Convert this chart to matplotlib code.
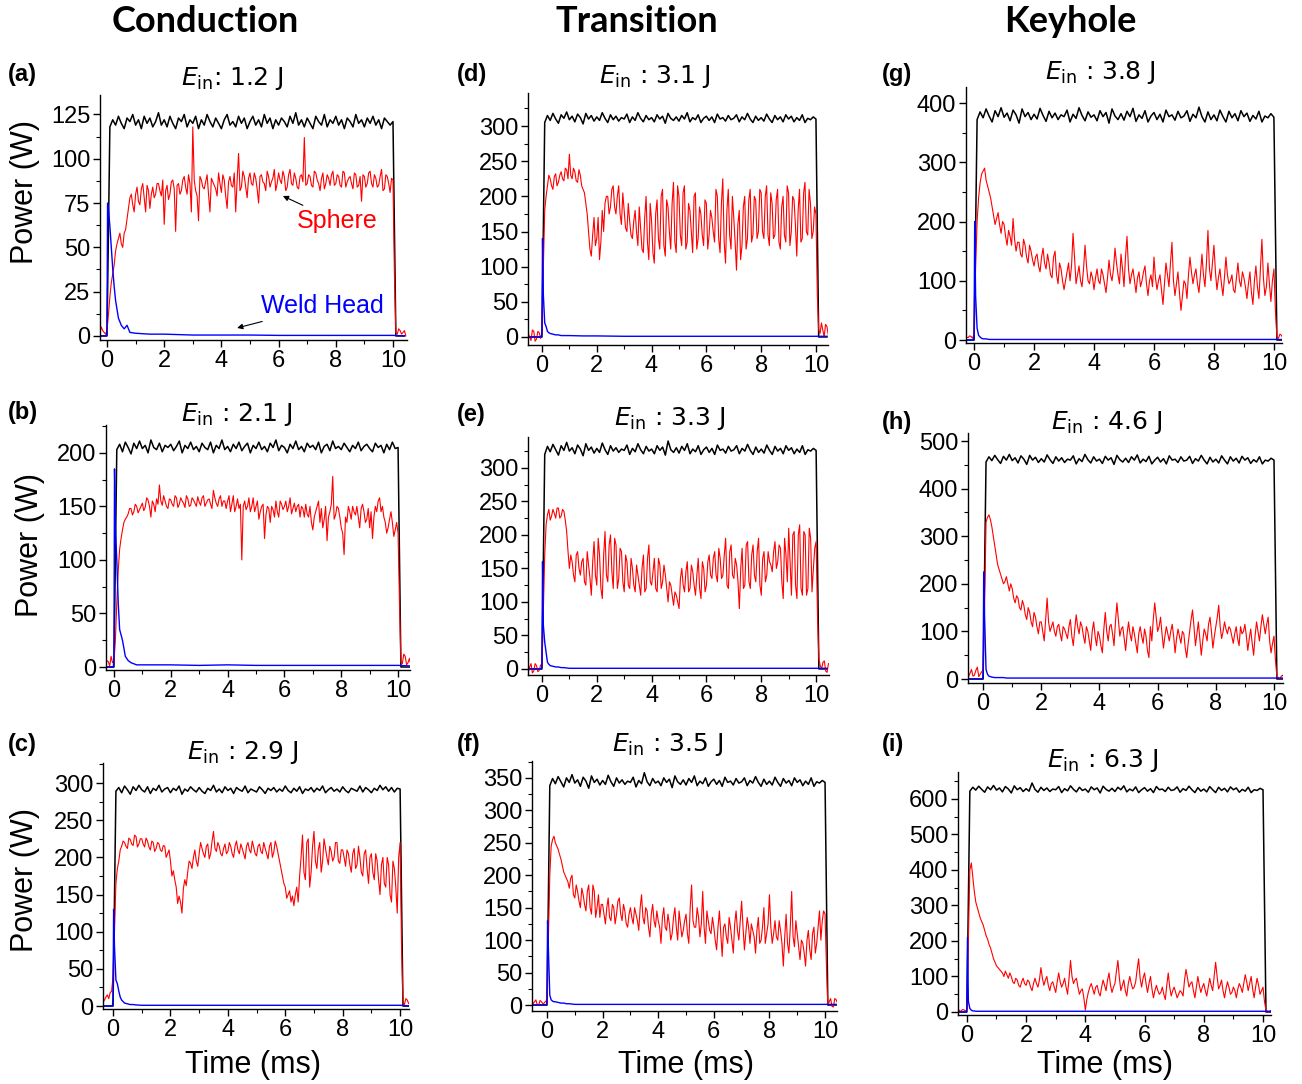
import numpy as np
import matplotlib.pyplot as plt
from matplotlib.ticker import MultipleLocator

plt.rcParams['font.family'] = ['Liberation Sans', 'DejaVu Sans']
plt.rcParams['mathtext.fontset'] = 'dejavusans'

# sampled time axis of the traces (ms): -0.5 ... 10.4 in 0.1 ms steps
t = np.round(np.arange(-5, 105) * 0.1, 2)
# sphere traces are also read half way between those samples
t_mid = np.round(t + 0.05, 2)
# finer time axis for the weld head spike
t_head = [-0.5, -0.02, 0.0, 0.02, 0.05, 0.1, 0.15, 0.2, 0.25, 0.3, 0.4, 0.5, 0.6, 0.7,
          0.8, 1.0, 1.5, 2.0, 3.0, 4.0, 5.0, 6.0, 7.0, 8.0, 9.0, 10.0, 10.4]

energy = ["1.2", "2.1", "2.9", "3.1", "3.3", "3.5", "3.8", "4.6", "6.3"]
letters = ["a", "b", "c", "d", "e", "f", "g", "h", "i"]
modes = ["Conduction", "Transition", "Keyhole"]

# ---- (a) 1.2 J
laser_a = [0, 0, 0, 0, 0,
           0, 118, 122, 119, 124, 120, 117, 123, 121, 125,
           119, 122, 117, 124, 120, 123, 118, 121, 126, 119,
           122, 118, 124, 120, 117, 123, 121, 125, 118, 122,
           120, 124, 117, 122, 119, 125, 121, 118, 123, 120,
           117, 122, 125, 119, 121, 118, 124, 120, 123, 117,
           121, 124, 119, 122, 118, 125, 120, 123, 117, 122,
           119, 123, 121, 118, 124, 120, 126, 119, 122, 118,
           123, 120, 117, 124, 121, 119, 125, 118, 122, 120,
           124, 119, 122, 117, 123, 121, 118, 125, 120, 122,
           118, 123, 120, 124, 119, 122, 117, 123, 121, 119,
           121, 0, 0, 0, 0]
sphere_a = [2, 1, 3, 5, 2,
            3, 22, 35, 48, 55, 52, 58, 66, 78, 74,
            80, 76, 83, 78, 85, 72, 84, 80, 86, 79,
            63, 85, 80, 88, 59, 86, 82, 90, 80, 86,
            118, 82, 65, 88, 83, 91, 70, 87, 83, 92,
            81, 88, 72, 90, 84, 70, 103, 84, 90, 78,
            92, 85, 89, 75, 91, 86, 93, 84, 89, 82,
            92, 86, 90, 84, 94, 85, 89, 83, 91, 112,
            86, 90, 84, 92, 86, 89, 83, 91, 85, 93,
            86, 90, 84, 92, 87, 90, 83, 91, 85, 76,
            90, 86, 93, 84, 89, 85, 94, 83, 90, 81,
            88, 2, 4, 1, 3]
sphere_a_mid = [4, 0, 2, 3, 1,
                12, 30, 40, 52, 58, 50, 60, 72, 80, 70,
                84, 74, 86, 70, 82, 80, 78, 86, 82, 88,
                82, 77, 87, 83, 85, 80, 88, 84, 91, 70,
                88, 79, 90, 84, 87, 80, 89, 85, 79, 86,
                91, 79, 87, 85, 92, 88, 82, 93, 84, 89,
                86, 92, 83, 90, 87, 82, 90, 87, 94, 86,
                88, 93, 82, 91, 86, 92, 84, 90, 87, 85,
                91, 85, 93, 88, 82, 92, 86, 89, 91, 85,
                91, 85, 93, 84, 89, 86, 92, 84, 90, 91,
                84, 92, 86, 91, 84, 90, 82, 91, 86, 89,
                35, 1, 3, 2, 0]
head_a = [0, 0, 5, 75, 72, 62, 50, 38, 28, 20, 10, 6, 4, 6, 2, 1.5, 1, 1, 0.5, 0.5,
          0.5, 0.3, 0.3, 0.3, 0.3, 0.3, 0]

# ---- (b) 2.1 J
laser_b = [0, 0, 0, 0, 0,
           0, 203, 208, 201, 210, 205, 199, 209, 204, 211,
           204, 207, 200, 212, 205, 203, 209, 201, 207, 205,
           208, 202, 206, 211, 200, 207, 204, 210, 203, 206,
           201, 209, 205, 203, 210, 200, 207, 204, 212, 203,
           206, 201, 208, 204, 210, 202, 206, 209, 200, 207,
           204, 210, 203, 206, 201, 209, 205, 212, 202, 207,
           205, 200, 208, 204, 211, 203, 206, 201, 209, 205,
           207, 203, 210, 200, 206, 208, 202, 211, 204, 206,
           203, 209, 205, 201, 207, 204, 210, 202, 206, 208,
           204, 201, 209, 205, 207, 200, 208, 203, 210, 204,
           205, 0, 0, 0, 0]
sphere_b = [3, 8, 2, 5, 10,
            5, 60, 110, 128, 138, 143, 148, 145, 150, 147,
            153, 149, 156, 140, 152, 157, 170, 151, 155, 148,
            156, 150, 158, 152, 155, 149, 157, 151, 156, 150,
            154, 158, 150, 156, 152, 165, 153, 157, 150, 155,
            155, 145, 160, 150, 148, 100, 155, 150, 145, 158,
            150, 138, 150, 120, 150, 135, 147, 155, 140, 152,
            150, 145, 158, 148, 145, 152, 150, 140, 143, 150,
            128, 145, 155, 148, 138, 118, 145, 178, 142, 148,
            130, 105, 135, 145, 150, 142, 140, 148, 145, 138,
            130, 120, 150, 155, 145, 140, 125, 138, 135, 128,
            125, 5, 12, 2, 8]
sphere_b_mid = [10, 3, 6, 1, 4,
                25, 90, 120, 135, 140, 148, 142, 152, 144, 150,
                146, 158, 150, 155, 145, 152, 155, 160, 150, 157,
                152, 160, 149, 158, 153, 160, 150, 158, 153, 159,
                151, 160, 153, 157, 148, 158, 150, 160, 155, 148,
                160, 152, 145, 157, 152, 150, 147, 158, 150, 145,
                155, 145, 152, 142, 148, 150, 140, 145, 155, 147,
                155, 150, 143, 153, 150, 140, 148, 152, 140, 135,
                140, 150, 135, 130, 150, 140, 152, 138, 150, 140,
                125, 140, 150, 138, 145, 150, 130, 152, 135, 148,
                145, 140, 145, 158, 150, 135, 130, 145, 122, 135,
                60, 3, 10, 4, 2]
head_b = [0, 0, 10, 185, 130, 100, 60, 35, 30, 25, 10, 6, 4, 3, 2, 2, 2, 2, 1.5, 2,
          1.5, 1.5, 1.5, 1.5, 1.5, 1.5, 1]

# ---- (c) 2.9 J
laser_c = [0, 0, 0, 0, 0,
           0, 289, 294, 287, 296, 291, 285, 295, 290, 297,
           291, 288, 295, 286, 293, 290, 297, 288, 292, 294,
           287, 293, 290, 296, 285, 292, 289, 295, 291, 288,
           294, 289, 286, 293, 290, 297, 288, 292, 287, 295,
           290, 293, 286, 294, 291, 289, 296, 287, 292, 290,
           288, 295, 291, 286, 293, 290, 294, 288, 292, 289,
           296, 290, 287, 293, 289, 295, 286, 292, 290, 294,
           288, 293, 290, 296, 287, 291, 294, 289, 292, 288,
           295, 290, 287, 293, 291, 289, 296, 288, 294, 291,
           287, 293, 290, 297, 291, 295, 289, 294, 288, 293,
           292, 0, 0, 0, 0]
sphere_c = [5, 10, 8, 15, 18,
            40, 165, 195, 215, 220, 212, 224, 216, 228, 218,
            225, 214, 222, 210, 220, 212, 218, 208, 215, 205,
            195, 182, 160, 148, 125, 170, 180, 192, 200, 195,
            205, 212, 200, 218, 205, 235, 208, 215, 202, 218,
            208, 215, 200, 222, 205, 212, 198, 220, 206, 214,
            202, 218, 205, 212, 198, 220, 207, 215, 195, 175,
            160, 150, 140, 135, 160, 175, 230, 170, 225, 180,
            235, 185, 220, 195, 212, 190, 208, 200, 220, 192,
            210, 188, 205, 180, 212, 190, 200, 175, 210, 165,
            205, 170, 195, 150, 200, 160, 190, 140, 185, 125,
            220, 5, 10, 3, 12]
sphere_c_mid = [8, 5, 12, 10, 20,
                100, 185, 210, 222, 215, 226, 218, 230, 214, 225,
                218, 226, 214, 222, 208, 220, 210, 216, 200, 210,
                175, 170, 138, 140, 158, 162, 195, 185, 210, 188,
                220, 205, 215, 198, 222, 212, 220, 205, 212, 205,
                220, 205, 215, 210, 218, 205, 215, 210, 222, 205,
                215, 208, 220, 205, 215, 200, 222, 205, 185, 165,
                145, 155, 148, 150, 140, 200, 180, 220, 160, 215,
                195, 210, 180, 225, 200, 215, 195, 220, 195, 210,
                200, 210, 190, 205, 185, 215, 180, 205, 185, 200,
                180, 205, 170, 190, 165, 200, 150, 195, 160, 200,
                80, 2, 8, 5, 10]
head_c = [0, 0, 10, 130, 80, 35, 30, 20, 12, 8, 4, 3, 2, 2, 1.5, 1, 1, 1, 1, 1,
          1, 1, 1, 1, 1, 1, 0]

# ---- (d) 3.1 J
laser_d = [0, 0, 0, 0, 0,
           0, 305, 315, 308, 318, 310, 304, 316, 311, 320,
           309, 314, 306, 317, 312, 303, 318, 310, 315, 307,
           313, 308, 319, 311, 305, 316, 309, 314, 307, 312,
           310, 317, 305, 313, 308, 319, 311, 306, 315, 309,
           312, 306, 316, 310, 314, 304, 318, 311, 308, 313,
           307, 315, 310, 319, 306, 312, 309, 316, 305, 311,
           314, 308, 313, 305, 317, 310, 312, 307, 315, 309,
           311, 316, 306, 313, 309, 318, 310, 305, 314, 308,
           312, 307, 317, 310, 305, 315, 309, 313, 306, 316,
           310, 314, 306, 312, 308, 316, 305, 311, 309, 313,
           310, 0, 0, 0, 0]
sphere_d = [5, -5, 8, -3, 6,
            5, 180, 215, 225, 210, 232, 220, 235, 222, 238,
            260, 225, 235, 220, 230, 210, 190, 150, 115, 170,
            140, 110, 180, 190, 200, 185, 215, 175, 215, 160,
            180, 150, 165, 140, 180, 130, 155, 120, 200, 110,
            165, 105, 195, 125, 210, 115, 185, 125, 220, 120,
            200, 130, 215, 135, 180, 120, 205, 140, 175, 130,
            190, 145, 170, 135, 200, 120, 225, 105, 210, 125,
            170, 95, 180, 130, 200, 140, 210, 145, 195, 150,
            205, 140, 215, 130, 190, 145, 210, 125, 200, 135,
            205, 150, 195, 115, 210, 140, 220, 145, 190, 150,
            175, 10, 20, 0, 15]
sphere_d_mid = [0, 10, -6, 8, -2,
                100, 200, 230, 215, 228, 215, 230, 225, 240, 225,
                230, 240, 222, 238, 215, 205, 175, 125, 145, 130,
                170, 135, 150, 200, 175, 210, 185, 200, 175, 205,
                155, 190, 145, 165, 150, 185, 125, 170, 135, 190,
                120, 175, 140, 200, 130, 195, 150, 190, 135, 215,
                145, 205, 125, 190, 150, 200, 125, 185, 145, 195,
                125, 180, 150, 210, 140, 190, 135, 180, 145, 200,
                135, 160, 110, 185, 125, 195, 135, 200, 140, 210,
                150, 200, 145, 205, 140, 195, 135, 185, 145, 215,
                130, 200, 160, 180, 135, 205, 150, 210, 140, 185,
                60, 5, 10, 18, 3]
head_d = [0, 0, 10, 140, 60, 20, 15, 8, 6, 5, 4, 3, 3, 2, 2, 2, 1.5, 1.5, 1, 1,
          1, 1, 1, 1, 1, 1, 1]

# ---- (e) 3.3 J
laser_e = [0, 0, 0, 0, 0,
           0, 320, 332, 324, 335, 327, 319, 333, 326, 338,
           325, 330, 321, 334, 328, 318, 336, 326, 331, 322,
           329, 323, 337, 327, 320, 333, 325, 330, 323, 328,
           326, 334, 320, 329, 324, 336, 327, 321, 332, 325,
           328, 321, 333, 326, 331, 319, 340, 327, 323, 330,
           322, 332, 326, 336, 321, 328, 324, 333, 320, 327,
           331, 323, 329, 320, 334, 326, 328, 322, 332, 325,
           327, 333, 321, 329, 325, 335, 326, 320, 331, 323,
           328, 322, 334, 326, 320, 332, 325, 329, 321, 333,
           326, 330, 321, 328, 323, 333, 320, 327, 325, 329,
           326, 0, 0, 0, 0]
sphere_e = [-5, 8, -3, 5, -2,
            5, 170, 230, 222, 238, 225, 240, 228, 235, 205,
            150, 160, 130, 175, 140, 165, 125, 155, 110, 190,
            125, 170, 105, 205, 130, 200, 120, 185, 135, 175,
            115, 160, 120, 150, 115, 140, 110, 170, 120, 185,
            125, 165, 115, 155, 130, 140, 100, 125, 95, 110,
            90, 150, 115, 160, 120, 145, 110, 165, 105, 150,
            125, 170, 135, 175, 130, 165, 140, 195, 120, 185,
            135, 155, 90, 180, 125, 190, 120, 185, 130, 195,
            110, 175, 140, 160, 145, 190, 160, 180, 105, 170,
            210, 110, 205, 105, 215, 110, 200, 120, 195, 150,
            190, 15, 0, 12, -5]
sphere_e_mid = [3, -6, 8, -4, 6,
                90, 215, 238, 228, 232, 240, 225, 238, 222, 175,
                170, 140, 170, 150, 160, 130, 175, 135, 160, 140,
                195, 120, 170, 140, 185, 145, 195, 120, 180, 130,
                170, 125, 165, 125, 155, 125, 150, 115, 165, 130,
                145, 120, 165, 120, 155, 120, 130, 110, 115, 100,
                135, 125, 145, 115, 155, 125, 140, 120, 160, 115,
                160, 140, 165, 140, 180, 135, 170, 125, 175, 140,
                165, 130, 150, 120, 185, 130, 170, 140, 175, 125,
                165, 130, 175, 155, 175, 150, 185, 130, 195, 130,
                160, 200, 125, 200, 120, 205, 110, 210, 115, 180,
                80, 5, 10, -3, 8]
head_e = [0, 0, 10, 160, 65, 40, 25, 10, 7, 5, 4, 3, 3, 2, 2, 1, 1, 1, 1, 1,
          1, 1, 1, 1, 1, 1, 1]

# ---- (f) 3.5 J
laser_f = [0, 0, 0, 0, 0,
           0, 338, 349, 341, 352, 344, 336, 350, 343, 355,
           342, 347, 337, 351, 345, 334, 353, 343, 348, 339,
           346, 340, 354, 344, 337, 350, 342, 347, 340, 345,
           343, 351, 336, 346, 341, 358, 344, 338, 349, 342,
           345, 338, 350, 343, 348, 335, 353, 344, 340, 347,
           339, 349, 343, 353, 338, 345, 341, 350, 337, 344,
           348, 340, 346, 337, 351, 343, 345, 339, 349, 342,
           344, 350, 338, 346, 342, 352, 343, 337, 348, 340,
           345, 339, 351, 343, 337, 349, 342, 346, 338, 350,
           343, 347, 338, 345, 340, 350, 337, 344, 342, 346,
           343, 0, 0, 0, 0]
sphere_f = [2, 8, 0, 5, 3,
            5, 200, 255, 250, 240, 225, 205, 195, 180, 200,
            165, 175, 150, 170, 145, 185, 140, 175, 150, 135,
            155, 125, 165, 130, 150, 140, 165, 130, 145, 120,
            150, 125, 140, 115, 170, 125, 145, 105, 155, 120,
            130, 95, 150, 115, 125, 110, 150, 100, 125, 115,
            140, 95, 185, 120, 150, 105, 175, 95, 130, 110,
            120, 85, 145, 75, 125, 95, 120, 80, 145, 100,
            160, 85, 135, 95, 115, 80, 135, 100, 150, 110,
            170, 95, 130, 100, 115, 60, 140, 80, 175, 90,
            110, 70, 95, 60, 115, 70, 120, 95, 145, 130,
            140, 0, 10, -3, 8]
sphere_f_mid = [5, 0, 7, 2, 6,
                100, 245, 260, 245, 232, 215, 200, 190, 195, 170,
                185, 160, 180, 155, 175, 150, 185, 135, 170, 155,
                140, 150, 135, 155, 125, 160, 140, 155, 125, 140,
                135, 150, 130, 150, 135, 150, 120, 140, 130, 145,
                120, 135, 120, 140, 100, 135, 120, 145, 105, 130,
                110, 150, 130, 120, 135, 125, 120, 145, 115, 135,
                100, 120, 110, 120, 105, 135, 100, 125, 115, 130,
                120, 110, 120, 125, 105, 115, 95, 120, 95, 125,
                120, 110, 105, 130, 95, 105, 95, 120, 105, 130,
                90, 100, 80, 100, 85, 110, 80, 120, 100, 145,
                60, 5, -2, 10, 3]
head_f = [0, 0, 10, 130, 85, 15, 8, 6, 5, 5, 4, 3, 3, 2, 2, 1, 1, 1, 1, 1,
          1, 1, 1, 1, 1, 1, 1]

# ---- (g) 3.8 J
laser_g = [0, 0, 0, 0, 0,
           0, 372, 385, 375, 390, 378, 368, 387, 377, 392,
           376, 383, 370, 388, 380, 366, 390, 377, 384, 372,
           381, 373, 391, 379, 369, 386, 375, 383, 372, 380,
           377, 388, 368, 381, 374, 392, 379, 370, 385, 376,
           380, 370, 387, 377, 384, 366, 390, 378, 372, 382,
           371, 386, 377, 391, 369, 380, 374, 387, 368, 378,
           384, 372, 381, 368, 388, 377, 380, 371, 386, 375,
           378, 387, 369, 381, 375, 393, 377, 368, 385, 372,
           380, 370, 388, 377, 368, 386, 375, 382, 370, 387,
           377, 383, 369, 379, 373, 386, 368, 378, 375, 382,
           376, 0, 0, 0, 0]
sphere_g = [3, 5, 8, 4, 6,
            10, 200, 265, 285, 270, 250, 225, 195, 215, 180,
            195, 160, 175, 205, 150, 165, 140, 160, 130, 150,
            125, 145, 115, 155, 120, 130, 105, 150, 95, 120,
            85, 115, 100, 180, 95, 125, 90, 160, 100, 115,
            85, 120, 95, 110, 80, 135, 100, 155, 110, 145,
            90, 175, 95, 120, 80, 115, 100, 125, 75, 110,
            140, 85, 110, 60, 130, 90, 165, 75, 115, 50,
            100, 70, 140, 95, 120, 80, 145, 90, 185, 100,
            160, 85, 120, 75, 140, 95, 110, 80, 130, 90,
            105, 70, 115, 60, 125, 70, 170, 75, 130, 65,
            120, 5, 10, 3, 8]
sphere_g_mid = [6, 2, 5, 7, 3,
                120, 240, 280, 290, 260, 240, 210, 205, 195, 200,
                175, 185, 160, 170, 165, 145, 170, 140, 160, 135,
                140, 125, 140, 130, 145, 110, 140, 110, 130, 100,
                100, 130, 125, 140, 110, 100, 120, 125, 95, 105,
                105, 100, 120, 95, 105, 110, 120, 130, 95, 120,
                140, 120, 110, 100, 105, 90, 115, 95, 100, 90,
                105, 100, 85, 95, 110, 130, 100, 95, 80, 75,
                95, 110, 115, 110, 95, 110, 110, 130, 120, 130,
                115, 105, 95, 105, 110, 100, 85, 105, 100, 115,
                90, 95, 80, 100, 90, 120, 105, 90, 95, 100,
                50, 3, 8, 5, 10]
head_g = [0, 0, 10, 200, 75, 20, 8, 5, 3, 2, 2, 1, 1, 1, 1, 1, 1, 1, 1, 1,
          1, 1, 1, 1, 1, 1, 1]

# ---- (h) 4.6 J
laser_h = [0, 0, 0, 0, 0,
           0, 456, 467, 459, 470, 461, 453, 468, 460, 472,
           459, 465, 454, 469, 462, 451, 470, 460, 466, 455,
           463, 456, 471, 461, 453, 467, 458, 465, 455, 462,
           460, 469, 452, 463, 457, 472, 461, 454, 467, 458,
           462, 453, 468, 460, 465, 451, 470, 461, 456, 464,
           455, 467, 460, 471, 454, 462, 457, 468, 452, 460,
           466, 456, 463, 452, 469, 460, 462, 455, 467, 458,
           460, 468, 453, 463, 458, 470, 460, 452, 466, 456,
           462, 454, 469, 460, 452, 467, 458, 464, 454, 468,
           460, 465, 453, 461, 456, 467, 452, 460, 458, 464,
           460, 0, 0, 0, 0]
sphere_h = [5, 20, 8, 25, 10,
            20, 330, 345, 320, 280, 240, 220, 200, 215, 185,
            190, 160, 170, 145, 155, 125, 140, 110, 130, 95,
            120, 80, 170, 100, 120, 90, 115, 80, 105, 85,
            125, 70, 135, 95, 110, 75, 100, 60, 120, 70,
            90, 55, 140, 80, 115, 70, 160, 90, 110, 60,
            120, 80, 95, 55, 110, 75, 90, 45, 80, 160,
            100, 130, 65, 110, 80, 115, 55, 105, 75, 95,
            45, 100, 145, 70, 120, 50, 105, 80, 130, 65,
            110, 155, 85, 120, 95, 105, 75, 110, 70, 95,
            115, 60, 105, 50, 120, 80, 135, 95, 130, 55,
            90, 5, 0, 8, 3]
sphere_h_mid = [12, 6, 18, 5, 15,
                150, 340, 335, 300, 260, 230, 210, 205, 200, 200,
                170, 175, 150, 165, 135, 150, 120, 140, 110, 120,
                100, 125, 120, 110, 100, 110, 95, 110, 95, 110,
                90, 105, 110, 120, 90, 110, 80, 100, 90, 100,
                70, 105, 100, 110, 95, 120, 125, 105, 85, 95,
                95, 110, 75, 95, 90, 105, 60, 110, 125, 130,
                110, 95, 90, 95, 100, 90, 85, 90, 100, 65,
                75, 125, 110, 95, 85, 80, 95, 115, 100, 90,
                130, 110, 100, 105, 110, 90, 95, 85, 110, 100,
                90, 85, 75, 90, 100, 110, 115, 115, 80, 75,
                40, 3, 6, 2, 5]
head_h = [0, 0, 10, 225, 130, 20, 10, 6, 5, 4, 3, 3, 3, 3, 2, 2, 2, 2, 2, 2,
          2, 2, 2, 2, 2, 2, 2]

# ---- (i) 6.3 J
laser_i = [0, 0, 0, 0, 0,
           0, 622, 633, 625, 636, 627, 619, 634, 626, 638,
           625, 631, 620, 635, 628, 617, 637, 626, 632, 621,
           629, 622, 645, 627, 619, 633, 624, 631, 621, 628,
           626, 635, 618, 629, 623, 637, 627, 620, 633, 624,
           628, 619, 634, 626, 631, 617, 636, 627, 622, 630,
           621, 633, 626, 637, 620, 628, 623, 634, 618, 626,
           632, 622, 629, 618, 635, 626, 628, 621, 633, 624,
           626, 634, 619, 629, 624, 636, 626, 618, 632, 622,
           628, 620, 635, 626, 618, 633, 624, 630, 620, 634,
           626, 631, 619, 627, 622, 633, 618, 626, 624, 630,
           626, 0, 0, 0, 0]
sphere_i = [5, 3, 8, 2, 6,
            5, 400, 380, 310, 280, 255, 230, 205, 180, 150,
            130, 120, 110, 115, 95, 100, 80, 90, 70, 95,
            75, 85, 60, 95, 70, 125, 75, 100, 60, 85,
            55, 110, 70, 95, 50, 145, 80, 95, 50, 65,
            5, 55, 80, 50, 75, 45, 90, 60, 110, 55,
            80, 145, 60, 90, 45, 100, 65, 85, 150, 70,
            110, 55, 100, 40, 75, 50, 70, 35, 110, 45,
            70, 40, 60, 45, 120, 70, 85, 40, 100, 55,
            80, 45, 95, 60, 140, 65, 90, 40, 85, 50,
            70, 40, 80, 55, 105, 60, 100, 40, 95, 50,
            70, 5, 0, 3, 5]
sphere_i_mid = [3, 6, 4, 7, 3,
                200, 420, 340, 295, 265, 245, 215, 190, 165, 140,
                125, 115, 100, 105, 110, 85, 95, 75, 85, 80,
                90, 70, 80, 80, 90, 95, 90, 75, 80, 70,
                85, 85, 80, 70, 95, 100, 90, 70, 60, 40,
                35, 70, 65, 70, 55, 70, 75, 90, 75, 70,
                115, 95, 75, 60, 80, 80, 70, 120, 95, 95,
                80, 80, 65, 60, 60, 55, 50, 75, 70, 60,
                55, 50, 55, 90, 95, 80, 60, 70, 75, 70,
                60, 70, 75, 100, 100, 75, 60, 65, 70, 55,
                60, 65, 70, 80, 85, 80, 65, 70, 75, 60,
                30, 2, 4, 5, 3]
head_i = [0, 0, 10, 210, 30, 10, 5, 3, 3, 2, 2, 2, 2, 2, 2, 2, 2, 2, 2, 2,
          2, 2, 2, 2, 2, 2, 2]

lasers = [laser_a, laser_b, laser_c, laser_d, laser_e, laser_f, laser_g, laser_h, laser_i]
spheres = [sphere_a, sphere_b, sphere_c, sphere_d, sphere_e, sphere_f, sphere_g, sphere_h, sphere_i]
spheres_mid = [sphere_a_mid, sphere_b_mid, sphere_c_mid, sphere_d_mid, sphere_e_mid,
               sphere_f_mid, sphere_g_mid, sphere_h_mid, sphere_i_mid]
heads = [head_a, head_b, head_c, head_d, head_e, head_f, head_g, head_h, head_i]


def interleave(a, b):
    return np.column_stack((a, b)).ravel()


W, H = 1302, 1084
fig = plt.figure(figsize=(W / 100, H / 100), dpi=100)

# axes boxes in pixels: left, right, top, bottom
boxes = [(100, 407, 95, 340), (106, 410, 425, 670), (103, 409, 763, 1009),
         (528, 828, 93, 345), (528, 829, 437, 675), (532, 837, 761, 1011),
         (966, 1282, 87, 343), (968, 1283, 433, 683), (958, 1271, 772, 1015)]
xlims = [(-0.245, 10.49), (-0.28, 10.42), (-0.35, 10.31),
         (-0.51, 10.44), (-0.51, 10.47), (-0.54, 10.43),
         (-0.27, 10.27), (-0.52, 10.31), (-0.3, 10.27)]
ylims = [(-2.3, 136), (-2.8, 226), (-4, 327),
         (-11.4, 347), (-9, 346), (-9.2, 376),
         (-5, 427), (-8.4, 517), (-8.5, 676)]
ymajor = [25, 50, 50, 50, 50, 50, 100, 100, 100]
ymax_tick = [125, 200, 300, 300, 300, 350, 400, 500, 600]
title_xy = [(232, 78), (237, 415), (243, 752), (655, 77), (670, 418), (668, 745),
            (1100, 73), (1107, 423), (1103, 760)]
letter_xy = [(8, 75), (8, 413), (8, 745), (457, 75), (457, 415), (457, 745),
             (882, 75), (882, 423), (882, 745)]

for k in range(9):
    L, R, T, B = boxes[k]
    ax = fig.add_axes([L / W, 1 - B / H, (R - L) / W, (B - T) / H])
    assert len(lasers[k]) == len(t) and len(spheres[k]) == len(t)
    assert len(spheres_mid[k]) == len(t)
    ax.plot(t, lasers[k], color='black', lw=1.1)
    ax.plot(interleave(t, t_mid), interleave(spheres[k], spheres_mid[k]),
            color='#ff0000', lw=0.8)
    ax.plot(t_head, heads[k], color='#0000ff', lw=1.0)
    ax.set_xlim(*xlims[k])
    ax.set_ylim(*ylims[k])
    ax.set_xticks([0, 2, 4, 6, 8, 10])
    ax.xaxis.set_minor_locator(MultipleLocator(1))
    ax.set_yticks(np.arange(0, ymax_tick[k] + 1, ymajor[k]))
    ax.yaxis.set_minor_locator(MultipleLocator(ymajor[k] / 2))
    for s in ['top', 'right']:
        ax.spines[s].set_visible(False)
    for s in ['left', 'bottom']:
        ax.spines[s].set_linewidth(1.0)
    ax.tick_params(which='major', direction='out', length=5, width=1, labelsize=17, pad=2)
    ax.tick_params(which='minor', direction='out', length=3, width=0.8)

    sep = ": " if k == 0 else " : "
    fig.text(title_xy[k][0] / W, 1 - title_xy[k][1] / H,
             r"$E_{\mathrm{in}}$" + sep + energy[k] + " J",
             family='DejaVu Sans', fontsize=18, ha='center', va='center')
    fig.text(letter_xy[k][0] / W, 1 - letter_xy[k][1] / H, "(" + letters[k] + ")",
             fontsize=17, fontweight='bold', ha='left', va='center')

    if k == 0:
        ax.annotate("Sphere", xy=(6.15, 79), xytext=(8.04, 64.7), color='#ff0000',
                    fontsize=18, ha='center', va='center',
                    arrowprops=dict(arrowstyle='-|>', color='black', lw=0.8,
                                    mutation_scale=8, shrinkA=2, shrinkB=0))
        ax.annotate("Weld Head", xy=(4.55, 4.5), xytext=(7.52, 16.9), color='#0000ff',
                    fontsize=18, ha='center', va='center',
                    arrowprops=dict(arrowstyle='-|>', color='black', lw=0.8,
                                    mutation_scale=8, shrinkA=2, shrinkB=0))

for x, y in [(25, 192), (30, 545), (25, 880)]:
    fig.text(x / W, 1 - y / H, "Power (W)", fontsize=22, rotation=90, ha='center', va='center')
for x, y in [(253, 1065), (686, 1065), (1105, 1065)]:
    fig.text(x / W, 1 - y / H, "Time (ms)", fontsize=22, ha='center', va='center')
for x, name in zip([205, 637, 1070], modes):
    fig.text(x / W, 1 - 22 / H, name, family='Lato', fontweight='bold', fontsize=26,
             ha='center', va='center')

fig.savefig("out.png", dpi=100)
